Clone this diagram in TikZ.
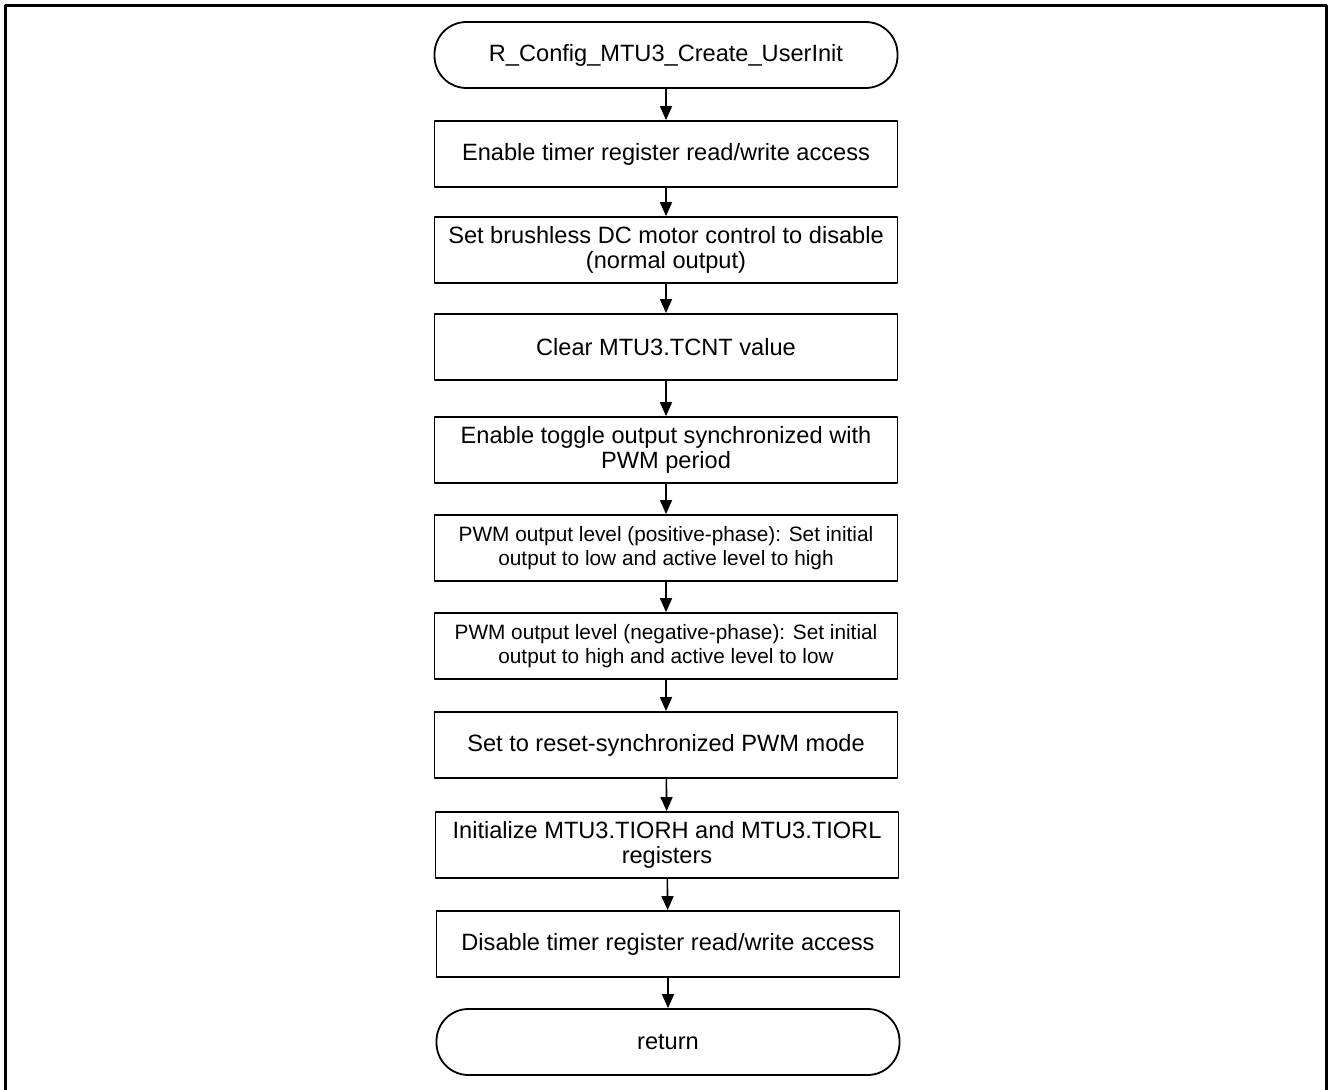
\documentclass[tikz,border=0pt]{standalone}
\usepackage{fontspec}
\setmainfont{Liberation Sans}
\usetikzlibrary{arrows.meta,positioning}

\begin{document}
\begin{tikzpicture}[x=0.5pt, y=-0.5pt, line join=round,
    procbox/.style={draw, line width=0.9pt, minimum width=231.5pt, minimum height=33pt,
        align=center, inner sep=1pt, font=\fontsize{11.8}{12.4}\selectfont},
    smallbox/.style={procbox, font=\fontsize{10.4}{12.2}\selectfont},
    termbox/.style={procbox, rounded corners=16pt},
    flow/.style={-{Triangle[width=6pt,length=7pt]}, line width=0.8pt}]
    \useasboundingbox (0,0) rectangle (1328,1090);
    % outer frame, open at the bottom
    \draw[line width=1.5pt] (5,1090) -- (5,6) -- (1326,6) -- (1326,1090);

    \node[termbox] (init) at (666,55) {R\_Config\_MTU3\_Create\_UserInit};
    \node[procbox] (enable) at (666,154) {Enable timer register read/write access};
    \node[procbox] (bdc) at (666,250) {Set brushless DC motor control to disable\\(normal output)};
    \node[procbox] (tcnt) at (666,347) {Clear MTU3.TCNT value};
    \node[procbox] (toggle) at (666,450) {Enable toggle output synchronized with\\PWM period};
    \node[smallbox] (pos) at (666,548) {PWM output level (positive-phase): Set initial\\output to low and active level to high};
    \node[smallbox] (neg) at (666,646) {PWM output level (negative-phase): Set initial\\output to high and active level to low};
    \node[procbox] (mode) at (666,745) {Set to reset-synchronized PWM mode};
    \node[procbox] (tior) at (667,845) {Initialize MTU3.TIORH and MTU3.TIORL\\registers};
    \node[procbox] (disable) at (668,944) {Disable timer register read/write access};
    \node[termbox] (ret) at (668,1042) {return};

    \draw[flow] (init) -- (enable);
    \draw[flow] (enable) -- (bdc);
    \draw[flow] (bdc) -- (tcnt);
    \draw[flow] (tcnt) -- (toggle);
    \draw[flow] (toggle) -- (pos);
    \draw[flow] (pos) -- (neg);
    \draw[flow] (neg) -- (mode);
    \draw[flow] (mode) -- (tior);
    \draw[flow] (tior) -- (disable);
    \draw[flow] (disable) -- (ret);
\end{tikzpicture}
\end{document}
